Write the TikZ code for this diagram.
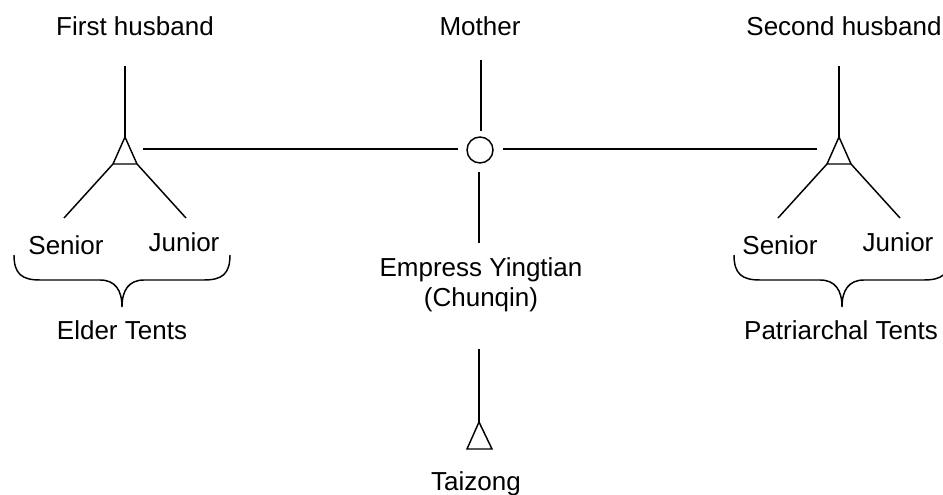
\documentclass[tikz,border=0pt]{standalone}
\usepackage{fontspec}
\setmainfont{Liberation Sans}
\begin{document}
\begin{tikzpicture}[x=0.75pt,y=-0.75pt,line width=1.1pt,line cap=butt,
  lbl/.style={font=\fontsize{19.5}{23}\selectfont,inner sep=0pt,anchor=base},
  femalenode/.style={draw,circle,inner sep=0pt,minimum size=19.5pt,line width=1.1pt}]
\useasboundingbox (0,0) rectangle (943,495);

% ---- labels ----
\node[lbl] (fh)   at (135,36)  {First husband};
\node[lbl] (mo)   at (480,36)  {Mother};
\node[lbl] (sh)   at (844,36)  {Second husband};
\node[lbl] (ls)   at (66,255)  {Senior};
\node[lbl] (lj)   at (184,252) {Junior};
\node[lbl] (rs)   at (780,255) {Senior};
\node[lbl] (rj)   at (898,252) {Junior};
\node[lbl] (et)   at (122,340) {Elder Tents};
\node[lbl] (pt)   at (841,340) {Patriarchal Tents};
\node[lbl] (em)   at (481,277) {Empress Yingtian};
\node[lbl] (ch)   at (481,307) {(Chunqin)};
\node[lbl] (tz)   at (476,490) {Taizong};

% ---- mother (circle) ----
\node[femalenode] (mc) at (480,150) {};

% ---- key points ----
\coordinate (fhtop) at (125,66);
\coordinate (t1a) at (125,137);
\coordinate (t1l) at (113,164);
\coordinate (t1r) at (137,164);
\coordinate (d1l) at (64,218);
\coordinate (d1r) at (186,218);

\coordinate (shtop) at (839,66);
\coordinate (t2a) at (839,137);
\coordinate (t2l) at (827,164);
\coordinate (t2r) at (851,164);
\coordinate (d2l) at (778,218);
\coordinate (d2r) at (900,218);

\coordinate (t3a) at (479,422);
\coordinate (t3l) at (467,449);
\coordinate (t3r) at (492,449);

\coordinate (h1a) at (143,149);
\coordinate (h1b) at (458,149);
\coordinate (h2a) at (503,149);
\coordinate (h2b) at (817,149);
\coordinate (motop) at (481,60);
\coordinate (mobot) at (481,131);
\coordinate (emtop) at (479,172);
\coordinate (embot) at (479,243);
\coordinate (tztop) at (479,349);

% ---- triangles (males) ----
\draw[line join=miter] (t1a) -- (t1l) -- (t1r) -- cycle;
\draw[line join=miter] (t2a) -- (t2l) -- (t2r) -- cycle;
\draw[line join=miter] (t3a) -- (t3l) -- (t3r) -- cycle;

% ---- connectors ----
\draw (fhtop) -- (t1a);
\draw (t1l) -- (d1l);
\draw (t1r) -- (d1r);
\draw (shtop) -- (t2a);
\draw (t2l) -- (d2l);
\draw (t2r) -- (d2r);
\draw (h1a) -- (h1b);
\draw (h2a) -- (h2b);
\draw (motop) -- (mobot);
\draw (emtop) -- (embot);
\draw (tztop) -- (t3a);

% ---- braces ----
\draw (14,255) .. controls (14,274) and (22,280) .. (40,280) -- (100,280)
  .. controls (115,280) and (122,290) .. (122,307)
  .. controls (122,290) and (129,280) .. (144,280) -- (204,280)
  .. controls (222,280) and (230,274) .. (230,255);
\draw (734,255) .. controls (734,274) and (742,280) .. (760,280) -- (820,280)
  .. controls (835,280) and (842,290) .. (842,307)
  .. controls (842,290) and (849,280) .. (864,280) -- (924,280)
  .. controls (942,280) and (950,274) .. (950,255);
\end{tikzpicture}
\end{document}
